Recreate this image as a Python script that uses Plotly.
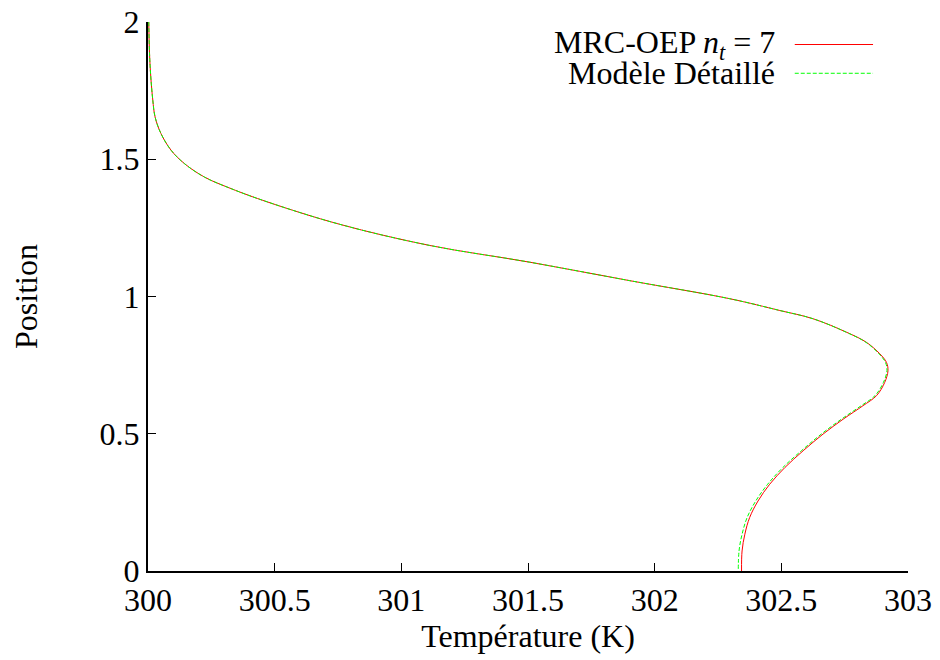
import plotly.graph_objects as go

# values
position = [2.0, 1.886, 1.80, 1.715, 1.654, 1.594, 1.533, 1.484, 1.435, 1.393,
            1.344, 1.263, 1.186, 1.125, 1.058, 0.992, 0.949, 0.919, 0.870, 0.833,
            0.791, 0.760, 0.730, 0.687, 0.639, 0.602, 0.553, 0.499, 0.438, 0.377,
            0.316, 0.255, 0.195, 0.134, 0.073, 0.0]
temp_mrc = [300.003, 300.006, 300.011, 300.019, 300.028, 300.051, 300.091, 300.144,
            300.223, 300.328, 300.473, 300.757, 301.112, 301.507, 301.900, 302.296,
            302.494, 302.625, 302.757, 302.836, 302.889, 302.915, 302.921, 302.908,
            302.876, 302.822, 302.744, 302.665, 302.586, 302.514, 302.454, 302.408,
            302.375, 302.356, 302.345, 302.343]
temp_detail = [300.003, 300.006, 300.011, 300.019, 300.028, 300.051, 300.091, 300.144,
               300.223, 300.328, 300.473, 300.757, 301.112, 301.507, 301.900, 302.296,
               302.494, 302.625, 302.756, 302.834, 302.886, 302.911, 302.917, 302.903,
               302.870, 302.815, 302.737, 302.658, 302.579, 302.506, 302.446, 302.399,
               302.365, 302.345, 302.333, 302.330]

xticks = [300, 300.5, 301, 301.5, 302, 302.5, 303]
yticks = [0, 0.5, 1, 1.5, 2]

font = "Liberation Serif"
fsize = 32

fig = go.Figure()
fig.add_trace(go.Scatter(x=temp_mrc, y=position, mode="lines",
                         line=dict(color="#ff0000", width=1, shape="spline", smoothing=1),
                         showlegend=False))
fig.add_trace(go.Scatter(x=temp_detail, y=position, mode="lines",
                         line=dict(color="#00ff00", width=1, dash="4px,2px", shape="spline", smoothing=1),
                         showlegend=False))

# legend, gnuplot style: text on the left, sample on the right
fig.add_annotation(x=0.8276, y=0.959, xref="paper", yref="paper", xanchor="right", yanchor="middle",
                   text="MRC-OEP <i>n<sub>t</sub></i> = 7", showarrow=False,
                   font=dict(family=font, size=fsize, color="black"))
fig.add_annotation(x=0.8276, y=0.9066, xref="paper", yref="paper", xanchor="right", yanchor="middle",
                   text="Modèle Détaillé", showarrow=False,
                   font=dict(family=font, size=fsize, color="black"))
fig.add_shape(type="line", xref="paper", yref="paper", x0=0.851, x1=0.954, y0=0.959, y1=0.959,
              line=dict(color="#ff0000", width=1))
fig.add_shape(type="line", xref="paper", yref="paper", x0=0.851, x1=0.954, y0=0.9066, y1=0.9066,
              line=dict(color="#00ff00", width=1, dash="4px,2px"))

# the page body has an 8px margin, so the plot area is shifted back by 8px
fig.update_layout(
    width=940, height=660,
    margin=dict(l=140, r=40, t=14, b=97),
    plot_bgcolor="white", paper_bgcolor="white",
    font=dict(family=font, size=fsize, color="black"),
    xaxis=dict(range=[300, 303], tickvals=xticks, ticktext=[str(v) for v in xticks],
               showgrid=False, zeroline=False, showline=True, linecolor="black", linewidth=2,
               ticks="inside", ticklen=8, tickwidth=1, tickcolor="black", automargin=False,
               ticklabeloverflow="allow", tickfont=dict(family=font, size=fsize),
               title=dict(text="Température (K)", standoff=4, font=dict(family=font, size=fsize))),
    yaxis=dict(range=[0, 2], tickvals=yticks, ticktext=[str(v) for v in yticks],
               showgrid=False, zeroline=False, showline=True, linecolor="black", linewidth=2,
               ticks="inside", ticklen=8, tickwidth=1, tickcolor="black", automargin=False,
               ticklabeloverflow="allow", tickfont=dict(family=font, size=fsize),
               title=dict(text="Position", standoff=60, font=dict(family=font, size=fsize))),
)
fig.write_html("out.html")
